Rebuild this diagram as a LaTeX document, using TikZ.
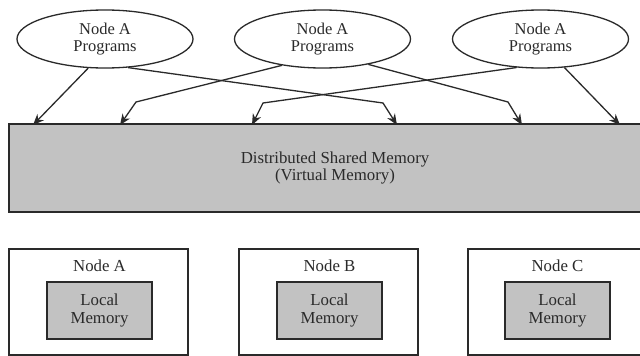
\documentclass[tikz,border=0pt]{standalone}
\usepackage{fontspec}
\setmainfont{Liberation Serif}
\usetikzlibrary{shapes.geometric,arrows.meta}
\definecolor{ln}{HTML}{2A2A2A}
\definecolor{boxfill}{HTML}{C2C2C2}
\begin{document}
\begin{tikzpicture}[x=1pt,y=-1pt,
  txt/.style={font=\fontsize{16.5}{16.5}\selectfont, text=ln, align=center},
  prog/.style={ellipse, draw=ln, line width=1.3pt, minimum width=176pt, minimum height=58pt, inner sep=0pt, txt},
  dsmbox/.style={rectangle, draw=ln, line width=1.6pt, fill=boxfill, minimum width=652pt, minimum height=88pt, inner sep=0pt, txt, font=\fontsize{16.8}{17}\selectfont},
  outer/.style={rectangle, draw=ln, line width=1.5pt, minimum width=179pt, minimum height=106pt, inner sep=0pt},
  inner/.style={rectangle, draw=ln, line width=1.5pt, fill=boxfill, minimum width=105pt, minimum height=57pt, inner sep=0pt, txt, font=\fontsize{16.8}{18}\selectfont},
  lbl/.style={txt, inner sep=0pt, font=\fontsize{16.8}{18}\selectfont},
  arr/.style={draw=ln, line width=1.3pt, -{Stealth[length=11pt,width=9pt]}}
]
\clip (0,0) rectangle (640,356);
\fill[white] (0,0) rectangle (640,356);

% program ellipses
\node[prog] (e1) at (105,39) {Node A\\Programs};
\node[prog] (e2) at (322.5,39) {Node A\\Programs};
\node[prog] (e3) at (540.5,39) {Node A\\Programs};

% distributed shared memory
\node[dsmbox] (dsm) at (335,168) {Distributed Shared Memory\\(Virtual Memory)};

% arrow targets and bends
\coordinate (t1) at (33,125);
\coordinate (t2) at (120,125);
\coordinate (t3) at (252,125);
\coordinate (t4) at (397,125);
\coordinate (t5) at (522,125);
\coordinate (t6) at (620,125);
\coordinate (b2) at (136,102);
\coordinate (b3) at (263,103);
\coordinate (b4) at (383,103);
\coordinate (b5) at (508,102);

\draw[arr] (e1.240) -- (t1);
\draw[arr] (e2.213) -- (b2) -- (t2);
\draw[arr] (e3.230) -- (b3) -- (t3);
\draw[arr] (e1.309) -- (b4) -- (t4);
\draw[arr] (e2.331) -- (b5) -- (t5);
\draw[arr] (e3.310) -- (t6);

% node boxes
\node[outer] (na) at (98.5,302) {};
\node[outer] (nb) at (328.5,302) {};
\node[outer] (nc) at (557.5,302) {};
\node[lbl] (la) at (99.5,266) {Node A};
\node[lbl] (lb) at (329.5,266) {Node B};
\node[lbl] (lc) at (557.5,266) {Node C};
\node[inner] (ma) at (99.5,310.5) {Local\\Memory};
\node[inner] (mb) at (329.5,310.5) {Local\\Memory};
\node[inner] (mc) at (557.5,310.5) {Local\\Memory};
\end{tikzpicture}
\end{document}
